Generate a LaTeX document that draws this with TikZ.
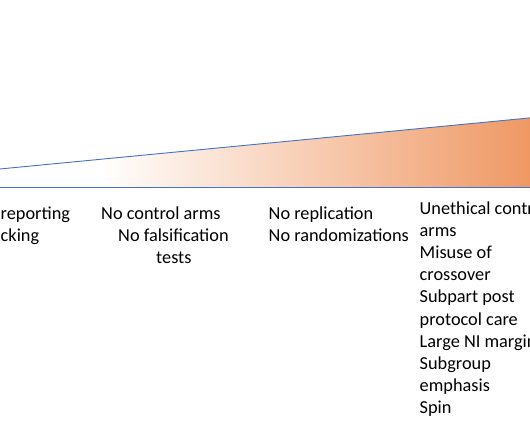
\documentclass[tikz,border=0pt]{standalone}
\usepackage{fontspec}
\setmainfont{Carlito}
\usetikzlibrary{positioning}

\definecolor{wedgeblue}{RGB}{68,114,196}
\definecolor{wedgeorange}{RGB}{239,152,100}

\tikzset{
  lbl/.style={anchor=base west, inner sep=0pt, font=\fontsize{18.3}{22.2}\selectfont},
  edge line/.style={draw=wedgeblue, line width=0.9pt}
}

\begin{document}
\begin{tikzpicture}[x=1pt,y=-1pt]

  \useasboundingbox (0,0) rectangle (530,442);
  \clip (0,0) rectangle (530,442);

  % wedge
  \coordinate (apex) at (-187,187);
  \coordinate (topR) at (560,115);
  \coordinate (botR) at (560,187);
  \begin{scope}
    \clip (apex) -- (topR) -- (botR) -- cycle;
    \shade[left color=white, right color=wedgeorange] (100,100) rectangle (530,190);
  \end{scope}
  \draw[edge line] (apex) -- (topR);
  \draw[edge line] (apex) -- (botR);

  % labels
  \draw (0.5,219) node[lbl] (rep1) {reporting};
  \draw (0.5,241.2) node[lbl] (rep2) {cking};

  \draw (101,219) node[lbl] (ctrl) {No control arms};
  \draw (118,241.2) node[lbl] (fals) {No falsification};
  \draw (156,263.4) node[lbl] (tests) {tests};

  \draw (268.5,219) node[lbl] (repl) {No replication};
  \draw (268.5,241.2) node[lbl] (rand) {No randomizations};

  \draw (419.5,214) node[lbl] (r1) {Unethical control};
  \draw (419.5,236.2) node[lbl] (r2) {arms};
  \draw (419.5,258.4) node[lbl] (r3) {Misuse of};
  \draw (419.5,280.6) node[lbl] (r4) {crossover};
  \draw (419.5,302.8) node[lbl] (r5) {Subpart post};
  \draw (419.5,325.0) node[lbl] (r6) {protocol care};
  \draw (419.5,347.2) node[lbl] (r7) {Large NI margin};
  \draw (419.5,369.4) node[lbl] (r8) {Subgroup};
  \draw (419.5,391.6) node[lbl] (r9) {emphasis};
  \draw (419.5,413.8) node[lbl] (r10) {Spin};

\end{tikzpicture}
\end{document}
